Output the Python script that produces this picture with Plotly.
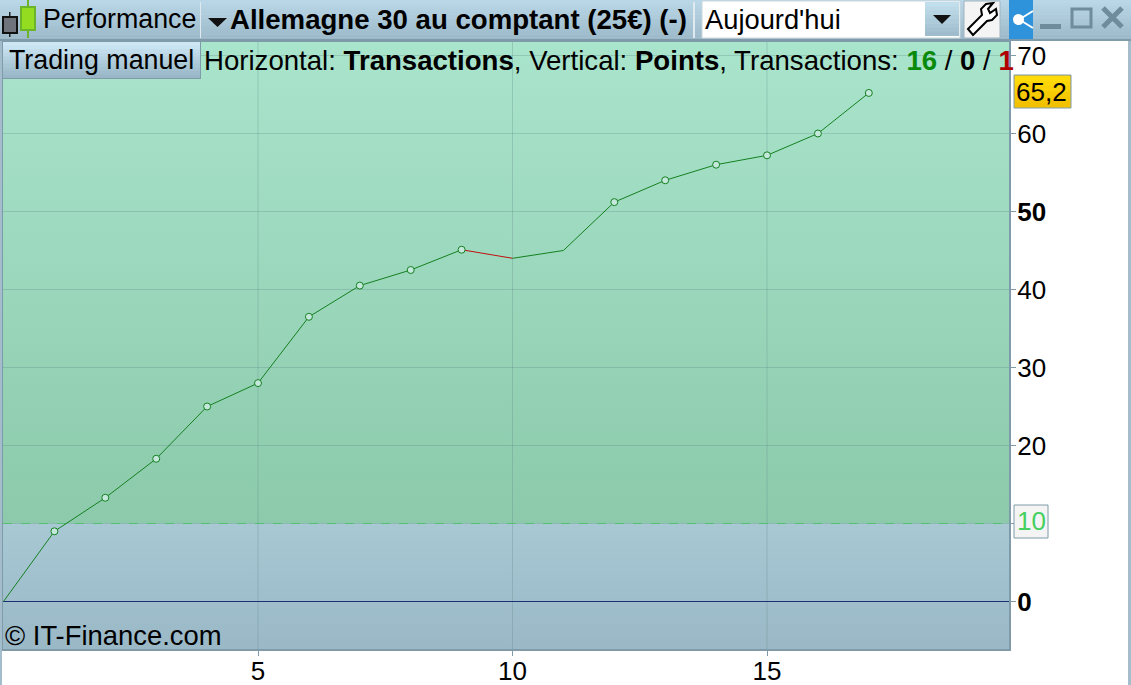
import plotly.graph_objects as go

trade_no = list(range(0, 18))
points = [0, 9.0, 13.3, 18.3, 25.0, 28.0, 36.5, 40.5, 42.5, 45.1, 44.0, 45.0, 51.2, 54.0, 56.0, 57.2, 60.0, 65.2]
marked = [1, 2, 3, 4, 5, 6, 7, 8, 9, 12, 13, 14, 15, 16, 17]
marked_points = [points[i] for i in marked]
y_ticks = [0, 10, 20, 30, 40, 50, 60, 70]
y_labels = ["<b>0</b>", "", "20", "30", "40", "<b>50</b>", "60", "70"]
x_ticks = [5, 10, 15]

W, H = 1131, 685
L, R, T, B = 3, 1009, 42, 649
FONT = "Liberation Sans"
x0 = -0.01
x1 = x0 + (R - L) / 50.9
y0 = -47.5 / 7.8
y1 = (601.5 - T) / 7.8


def px(x):
    return x / W


def py(y):
    return 1 - y / H


shapes = []
annotations = []


def rect(xa, ya, xb, yb, fill, line=None, lw=1):
    shapes.append(dict(type="rect", xref="paper", yref="paper", x0=px(xa), x1=px(xb), y0=py(ya), y1=py(yb),
                       fillcolor=fill, line=dict(color=line or fill, width=lw if line else 0), layer="above"))


def text(x, y, s, size=26.5, color="#000000", anchor="left", font=FONT):
    annotations.append(dict(xref="paper", yref="paper", x=px(x), y=py(y), text=s, showarrow=False, xanchor=anchor,
                            yanchor="middle", font=dict(family=font, size=size, color=color), borderpad=0, borderwidth=0))


def mix(a, b, t):
    return "rgb(" + ",".join(str(round(a[i] + (b[i] - a[i]) * t)) for i in range(3)) + ")"


def vband(xa, ya, xb, yb, top, bot, n=10):
    for i in range(n):
        h = (yb - ya) / n
        rect(xa, ya + i * h, xb, ya + (i + 1) * h + (0.5 if i < n - 1 else 0), mix(top, bot, (i + .5) / n))


# toolbar
vband(0, 0, W, 40, (186, 216, 232), (155, 184, 200), 14)
rect(0, 39, W, 41, "#7f9aa8")
rect(1128, 41, W, H, "#a3bdcc")
rect(0, 41, 2, H, "#a3bdcc")
rect(200, 2, 201, 38, "#dfeaf0")
rect(693, 2, 695, 38, "#dfeaf0")
# candlestick icon
rect(9, 12, 10.5, 37, "#222222")
rect(3, 17, 17, 33, "#6f747c", "#111111", 2)
rect(27, 0, 29, 38, "#6cb52a")
rect(21, 7, 35, 30, "#93dc20", "#6cb52a", 2)
text(43, 19, "Performance", 26.8)
# dropdown triangle + title
shapes.append(dict(type="path", xref="paper", yref="paper", layer="above", fillcolor="#111111", line=dict(width=0),
                   path=f"M {px(208)} {py(18)} L {px(227)} {py(18)} L {px(217.5)} {py(27)} Z"))
text(230, 19, "<b>Allemagne 30 au comptant (25€) (-)</b>", 27.6)
# combo box
rect(702, 1, 960, 38, "#ffffff", "#c9d6dd", 1)
text(705, 19, "Aujourd'hui", 27.3)
vband(925, 2, 959, 36, (196, 224, 238), (155, 186, 202), 8)
shapes.append(dict(type="path", xref="paper", yref="paper", layer="above", fillcolor="#111111", line=dict(width=0),
                   path=f"M {px(933)} {py(15)} L {px(951)} {py(15)} L {px(942)} {py(24)} Z"))
# wrench button
rect(964, 1, 1000, 38, "#f4f4f4", "#9fb3bf", 1)
wrench = [(968, 29), (982, 15), (981, 9), (986, 4), (993, 3), (988, 9), (990, 13), (996, 9), (997, 15), (992, 20), (987, 21), (973, 35)]
shapes.append(dict(type="path", xref="paper", yref="paper", layer="above", fillcolor="#ffffff",
                   line=dict(color="#000000", width=2),
                   path="M " + " L ".join(f"{px(a)} {py(b)}" for a, b in wrench) + " Z"))
# share button
rect(1009, 0, 1033, 39, "#2f93dc")
shapes.append(dict(type="circle", xref="paper", yref="paper", layer="above", fillcolor="#ffffff", line=dict(width=0),
                   x0=px(1013), x1=px(1024), y0=py(14), y1=py(25)))
shapes.append(dict(type="path", xref="paper", yref="paper", layer="above", line=dict(color="#ffffff", width=2),
                   path=f"M {px(1020)} {py(19)} L {px(1033)} {py(11)} M {px(1020)} {py(20)} L {px(1033)} {py(28)}"))
# window controls
rect(1040, 24, 1061, 29, "#6f8c9c")
shapes.append(dict(type="rect", xref="paper", yref="paper", layer="above", line=dict(color="#6f8c9c", width=3),
                   x0=px(1072), x1=px(1091), y0=py(9), y1=py(27)))
shapes.append(dict(type="path", xref="paper", yref="paper", layer="above", line=dict(color="#6f8c9c", width=5),
                   path=f"M {px(1103)} {py(8)} L {px(1122)} {py(27)} M {px(1122)} {py(8)} L {px(1103)} {py(27)}"))
# Trading manuel tab
vband(3, 42, 200, 78, (208, 234, 248), (150, 180, 196), 10)
rect(200, 42, 201, 79, "#7f9aa8")
rect(3, 78, 201, 79, "#7f9aa8")
text(9, 60, "Trading manuel", 26.8)
# status line
text(204, 60, 'Horizontal: <b>Transactions</b>, Vertical: <b>Points</b>, Transactions: '
     '<b><span style="color:#0a8a0a">16</span></b> / <b>0</b> / <b><span style="color:#b00000">1</span></b>', 27.6)
text(5, 635, "© IT-Finance.com", 27.4)
# y axis badges
rect(1014, 75, 1071, 108, "#f8c808", "#7f9aa8", 1)
vband(1015, 76, 1070, 107, (255, 222, 10), (241, 190, 0), 6)
text(1016, 92, "65,2", 26)
rect(1014, 505, 1048, 538, "#f4f4f4", "#7f9aa8", 1)
text(1017, 521, "10", 26, "#45d060")


def band(ya, yb, low, high):
    return go.Scatter(x=[x0, x1, x1, x0], y=[ya, ya, yb, yb], mode="lines", line=dict(width=0), fill="toself",
                      fillgradient=dict(type="vertical", colorscale=[[0, low], [1, high]]),
                      showlegend=False, hoverinfo="skip")


grid_x, grid_y = [], []
for v in x_ticks:
    grid_x += [v, v, None]
    grid_y += [y0, y1, None]
for v in y_ticks:
    grid_x += [x0, x1, None]
    grid_y += [v, v, None]

fig = go.Figure()
fig.add_trace(band(10, y1, "#8ccaab", "#a9e4cc"))
fig.add_trace(band(y0, 10, "#9ab8c6", "#a8c8d4"))
fig.add_trace(go.Scatter(x=grid_x, y=grid_y, mode="lines", line=dict(color="rgba(90,130,130,0.28)", width=1),
                         showlegend=False, hoverinfo="skip"))
fig.add_trace(go.Scatter(x=[x0, x1], y=[10, 10], mode="lines", line=dict(color="#55c070", width=1, dash="dash"), showlegend=False))
fig.add_trace(go.Scatter(x=[x0, x1], y=[0, 0], mode="lines", line=dict(color="#1c2f70", width=1), showlegend=False))
fig.add_trace(go.Scatter(x=trade_no[:10], y=points[:10], mode="lines", line=dict(color="#148020", width=1), showlegend=False))
fig.add_trace(go.Scatter(x=trade_no[9:11], y=points[9:11], mode="lines", line=dict(color="#c01010", width=1), showlegend=False))
fig.add_trace(go.Scatter(x=trade_no[10:], y=points[10:], mode="lines", line=dict(color="#148020", width=1), showlegend=False))
fig.add_trace(go.Scatter(x=marked, y=marked_points, mode="markers", showlegend=False,
                         marker=dict(size=7, color="#c4e8dc", line=dict(color="#148020", width=1))))

fig.update_layout(
    width=W, height=H, autosize=False,
    margin=dict(l=0, r=0, t=0, b=0), paper_bgcolor="#ffffff", plot_bgcolor="#a9e4cc",
    showlegend=False, font=dict(family=FONT, size=26, color="#000000"),
    shapes=shapes, annotations=annotations,
    xaxis=dict(domain=[px(L), px(R)], range=[x0, x1], tickvals=x_ticks, ticks="outside", ticklen=5, tickcolor="#7f9aa8",
               showgrid=False, zeroline=False, showline=True, linecolor="#7f9aa8", automargin=False,
               ticklabelstandoff=-7, linewidth=2, mirror=True, tickfont=dict(size=26)),
    yaxis=dict(domain=[py(B), py(T)], range=[y0, y1], side="right", tickvals=y_ticks, ticktext=y_labels, ticks="outside",
               ticklen=5, tickcolor="#7f9aa8", showgrid=False, zeroline=False, automargin=False,
               ticklabelstandoff=-4, showline=True, linecolor="#7f9aa8", linewidth=2, mirror=True, tickfont=dict(size=26)),
)
fig.write_html("out.html", config=dict(displayModeBar=False),
               post_script="document.body.style.margin='0';document.body.style.overflow='hidden';")
